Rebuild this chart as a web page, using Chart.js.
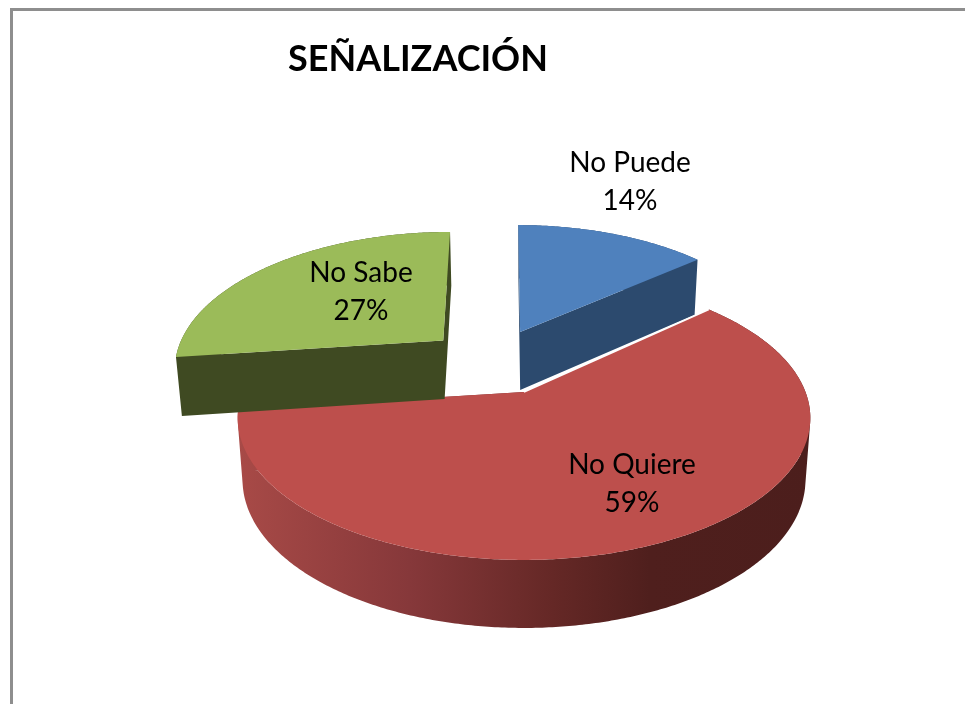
<!DOCTYPE html>
<html><head><meta charset="utf-8">
<style>
html,body{margin:0;padding:0;background:#fff;overflow:hidden}
#wrap{position:relative;width:965px;height:704px}
#frame{position:absolute;left:10px;top:8px;right:0;bottom:0;border-left:3px solid #8e8e8e;border-top:3px solid #8e8e8e;pointer-events:none}
canvas{position:absolute;left:0;top:0}
</style>
<script src="https://cdn.jsdelivr.net/npm/chart.js@4"></script>
</head><body>
<div id="wrap"><canvas id="c" width="965" height="704"></canvas><div id="frame"></div></div>
<script>
const chartTitle = 'SEÑALIZACIÓN';
const categories = ['No Puede', 'No Quiere', 'No Sabe'];
const values = [14, 59, 27];
const topColors = ['#4f81bd', '#bd4f4c', '#9bbb59'];
const wallColors = ['#2c4a6e', null, '#3f4a22'];
const explodeU = [-0.015, 0, -0.308];
const explodeV = [0.475, 0, 0.403];
const stretchV = [1.09, 1, 1.08];
const shear = [-0.011, 0, -0.026];
const startNudge = [0, -0.05, 0];
const labelAnchors = [[630, 163], [632, 465], [361, 273]];

const view = {x0: 524, y0: 392, A: 281.5, B: 137.2, k: 0.183, f: 0.983};
function project(u, v) {
  const w = 1 + view.k * v;
  return {x: view.x0 + view.A * u / w, y: view.y0 - view.B * v / w};
}
function drop(p) {
  return {x: view.x0 + (p.x - view.x0) * view.f, y: p.y + 58 + (p.y - 332) * 0.0439};
}
function rim(i, a0, a1) {
  const pts = [], from = a0 + startNudge[i], n = Math.max(2, Math.ceil((a1 - from) / 0.01));
  for (let j = 0; j <= n; j++) {
    const t = from + (a1 - from) * j / n + Math.PI / 2;
    const c = Math.cos(t);
    pts.push(project(explodeU[i] + Math.sin(t) + shear[i] * c, explodeV[i] + stretchV[i] * c));
  }
  return pts;
}
function addPoly(ctx, pts) {
  let area = 0;
  pts.forEach((p, j) => {
    const q = pts[(j + 1) % pts.length];
    area += p.x * q.y - q.x * p.y;
  });
  const list = area < 0 ? pts.slice().reverse() : pts;
  list.forEach((p, j) => j ? ctx.lineTo(p.x, p.y) : ctx.moveTo(p.x, p.y));
  ctx.closePath();
}
const pie3d = {
  id: 'pie3d',
  beforeDatasetsDraw(chart) {
    const ctx = chart.ctx, arcs = chart.getDatasetMeta(0).data;
    const sum = values.reduce((a, b) => a + b, 0);
    ctx.save();
    const grad = ctx.createLinearGradient(238, 0, 810, 0);
    grad.addColorStop(0, '#a84a47');
    grad.addColorStop(0.3, '#86383a');
    grad.addColorStop(0.55, '#652826');
    grad.addColorStop(0.72, '#4f1f1d');
    grad.addColorStop(1, '#4c1e1c');
    arcs.forEach((arc, i) => {
      const outer = rim(i, arc.startAngle, arc.endAngle);
      const lower = outer.map(drop);
      const apex = project(explodeU[i], explodeV[i]);
      const last = outer.length - 1;
      ctx.beginPath();
      for (let j = 0; j < last; j++) {
        addPoly(ctx, [outer[j], outer[j + 1], lower[j + 1], lower[j]]);
      }
      addPoly(ctx, [apex, outer[0], lower[0], drop(apex)]);
      addPoly(ctx, [apex, outer[last], lower[last], drop(apex)]);
      ctx.fillStyle = wallColors[i] || grad;
      ctx.fill('nonzero');

      ctx.beginPath();
      addPoly(ctx, [apex].concat(outer));
      ctx.fillStyle = topColors[i];
      ctx.fill();

      if (i === 1) {
        ctx.beginPath();
        ctx.moveTo(apex.x, apex.y);
        ctx.lineTo(outer[0].x, outer[0].y);
        ctx.strokeStyle = '#ffffff';
        ctx.lineWidth = 1.5;
        ctx.stroke();
      }
    });
    ctx.fillStyle = '#000';
    ctx.font = '28px Lato';
    ctx.textAlign = 'center';
    ctx.textBaseline = 'middle';
    categories.forEach((name, i) => {
      const [lx, ly] = labelAnchors[i];
      ctx.fillText(name, lx, ly);
      ctx.fillText(Math.round(values[i] / sum * 100) + '%', lx, ly + 38);
    });
    ctx.restore();
    return false;
  }
};
new Chart(document.getElementById('c'), {
  type: 'pie',
  data: {labels: categories, datasets: [{data: values, backgroundColor: topColors}]},
  plugins: [pie3d],
  options: {
    responsive: false,
    animation: false,
    layout: {padding: {right: 129, top: 38}},
    plugins: {
      legend: {display: false},
      tooltip: {enabled: false},
      title: {display: true, text: chartTitle, color: '#000', align: 'center',
              font: {family: 'Lato', size: 36, weight: 'bold'}, padding: 0}
    }
  }
});
</script>
</body></html>
